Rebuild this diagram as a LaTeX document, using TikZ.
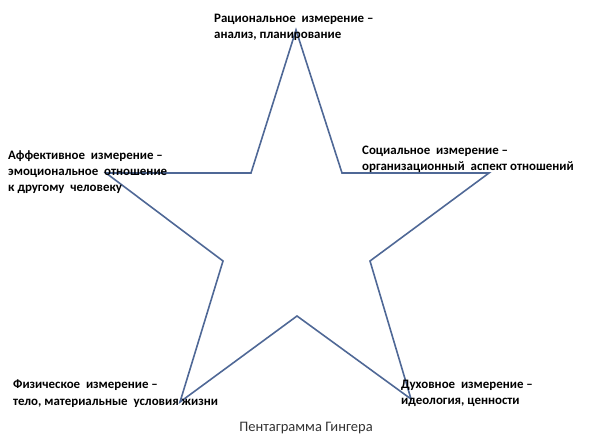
\documentclass[tikz,border=0pt]{standalone}
\usepackage{fontspec}
\setmainfont{Carlito}
\definecolor{starblue}{RGB}{79,104,150}
\begin{document}
\begin{tikzpicture}[x=1pt,y=-1pt,
	starline/.style={draw=starblue,line width=1.6pt,line join=miter},
	dimlabel/.style={anchor=north west,inner sep=0pt,align=left,font=\bfseries\fontsize{12.9}{16.2}\selectfont}]
	\useasboundingbox (0,0) rectangle (591,443);
	\draw[starline] (296,30)--(342,173)--(489,173)--(370,261)--(411,399)--(297,316)--(180,402)--(223,261)--(106,173)--(251,173)--cycle;
	\node[dimlabel] (rational) at (214,14){Рациональное\ \ измерение --\\анализ, планирование};
	\node[dimlabel] (affective) at (8,150){Аффективное\ \ измерение --\\эмоциональное\ \ отношение\\к другому\ \ человеку};
	\node[dimlabel] (social) at (362,146){Социальное\ \ измерение --\\организационный\ \ аспект отношений};
	\node[dimlabel] (physical) at (13,380){Физическое\ \ измерение --\\тело, материальные\ \ условия жизни};
	\node[dimlabel] (spiritual) at (401,380){Духовное\ \ измерение --\\идеология, ценности};
	\node[font=\fontsize{14.5}{16}\selectfont,text=black!80] (caption) at (306,428){Пентаграмма Гингера};
\end{tikzpicture}
\end{document}
